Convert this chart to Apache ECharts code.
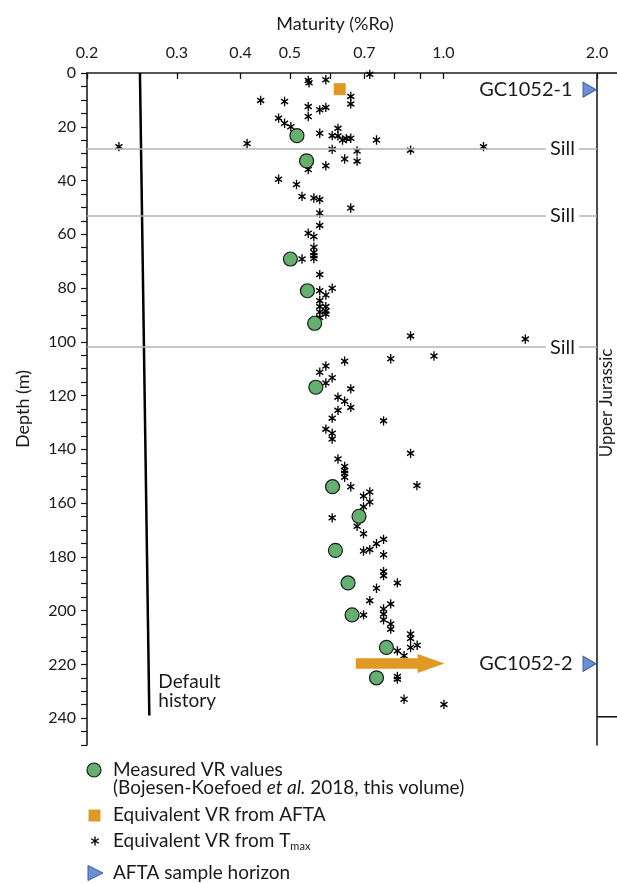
<!DOCTYPE html>
<html><head><meta charset="utf-8">
<script src="https://cdn.jsdelivr.net/npm/echarts@6/dist/echarts.min.js"></script>
<style>html,body{margin:0;padding:0;background:#fff}#c{width:617px;height:883px}</style>
</head><body><div id="c"></div>
<script>
// ---------- data ----------
const xTickValues = [0.2, 0.3, 0.4, 0.5, 0.6, 0.7, 0.8, 0.9, 1.0, 2.0];
const xLabelValues = [0.2, 0.3, 0.4, 0.5, 0.7, 1.0, 2.0];
const yLabelStep = 20;

// Equivalent VR from Tmax: [Ro %, depth m]
const tmaxVR = [
  [0.543, 2.8], [0.545, 3.6], [0.588, 2.5], [0.717, 0.5],
  [0.438, 10.2], [0.488, 10.6], [0.658, 8.7], [0.658, 11.5],
  [0.543, 12.5], [0.572, 13.7], [0.588, 12.8], [0.543, 16.2],
  [0.475, 16.8], [0.488, 18.7], [0.502, 20.0],
  [0.572, 22.4], [0.605, 23.3], [0.621, 20.6], [0.621, 23.4],
  [0.634, 24.9], [0.645, 24.4], [0.658, 24.3], [0.739, 24.9],
  [0.412, 26.2], [0.231, 27.4], [1.198, 27.4], [0.862, 28.7],
  [0.605, 28.4], [0.677, 29.0], [0.677, 32.8], [0.640, 32.0],
  [0.543, 35.9], [0.588, 34.5], [0.475, 39.5], [0.515, 41.5],
  [0.528, 45.9], [0.557, 46.5], [0.572, 47.1], [0.658, 50.2],
  [0.572, 52.1], [0.572, 56.7], [0.543, 59.6], [0.557, 60.8],
  [0.557, 64.8], [0.557, 66.8], [0.557, 68.0], [0.557, 69.0], [0.528, 69.2],
  [0.572, 75.0], [0.572, 81.0], [0.588, 82.6], [0.605, 80.1],
  [0.572, 84.7], [0.572, 86.9], [0.588, 86.9], [0.588, 88.5], [0.588, 89.7], [0.572, 88.9], [0.572, 91.0],
  [0.862, 97.8], [1.447, 99.0], [0.958, 105.3], [0.788, 106.3], [0.640, 107.2],
  [0.588, 109.0], [0.572, 111.3], [0.605, 113.4], [0.588, 115.3], [0.658, 117.5],
  [0.621, 120.6], [0.640, 122.1], [0.658, 124.4], [0.621, 125.5],
  [0.605, 128.4], [0.763, 129.4], [0.588, 132.5], [0.605, 134.0], [0.605, 136.2],
  [0.862, 141.5], [0.621, 143.6], [0.640, 146.4], [0.640, 147.9], [0.640, 148.9], [0.640, 150.4],
  [0.658, 153.9], [0.887, 153.5], [0.697, 157.4], [0.717, 155.9], [0.717, 159.6], [0.697, 161.4],
  [0.605, 165.5], [0.677, 168.6], [0.697, 171.4], [0.763, 173.5], [0.739, 175.1], [0.717, 177.3], [0.697, 177.8], [0.763, 179.2],
  [0.763, 185.5], [0.763, 187.0],
  [0.812, 189.7], [0.739, 191.7], [0.717, 196.3], [0.788, 197.5], [0.763, 199.4], [0.763, 201.3], [0.763, 203.4], [0.697, 201.6],
  [0.788, 205.0], [0.788, 206.9], [0.862, 208.7], [0.862, 210.4], [0.862, 213.7], [0.888, 212.9], [0.812, 215.0], [0.837, 216.8],
  [0.812, 224.5], [0.812, 225.5], [0.837, 233.0], [1.002, 234.9]
];

// Measured VR values: [Ro %, depth m]
const measuredVR = [
  [0.516, 23.3], [0.539, 32.7], [0.501, 69.2], [0.541, 81.0], [0.559, 93.1],
  [0.562, 116.9], [0.606, 153.9], [0.683, 164.9], [0.614, 177.6], [0.650, 189.7],
  [0.662, 201.6], [0.773, 213.7], [0.739, 225.0]
];

// Equivalent VR from AFTA
const aftaVR = [[0.626, 6.0]];
// AFTA-derived maturity arrow: [start Ro, depth, end Ro]
const aftaArrow = [[0.673, 219.7, 1.005]];

// Default history
const defaultHistory = [[0.254, 0], [0.265, 239]];
const defaultHistoryLabel = ['Default', 'history'];

// Sills
const sillDepths = [28, 53, 102];

// AFTA sample horizons
const aftaSamples = ['GC1052-1', 'GC1052-2'];
const aftaSampleDepths = [6.2, 219.8];
const aftaSampleRo = 2.0;

const jurassicBase = 239.5;

// ---------- chart ----------
const FONT = 'Lato';
const TXT = '#1a1a1a';
const ORANGE = '#e09a24';
const GREEN = '#63b06f';
const BLUE = '#6b8fd4';
const STAR = 'path://M5,0L5,10M0.67,2.5L9.33,7.5M0.67,7.5L9.33,2.5';
const TRI = 'path://M0,0L12,7L0,14Z';

const chart = echarts.init(document.getElementById('c'), null, {renderer: 'canvas'});

const option = {
  animation: false,
  backgroundColor: '#fff',
  textStyle: {fontFamily: FONT, color: TXT},
  grid: {left: 87, right: 20, top: 73, bottom: 138, containLabel: false},
  xAxis: [{
    type: 'log', logBase: 10, min: 0.2, max: 2.0, position: 'top',
    name: 'Maturity (%Ro)', nameLocation: 'middle', nameGap: 40,
    nameTextStyle: {fontSize: 18, color: TXT, fontFamily: FONT, padding: [0, 14, 0, 0]},
    axisLine: {show: true, lineStyle: {color: '#111', width: 1.5}},
    axisTick: {show: true, inside: true, length: 6, customValues: xTickValues, lineStyle: {color: '#111', width: 1.3}},
    axisLabel: {show: true, customValues: xLabelValues, margin: 12, fontSize: 16, color: TXT, fontFamily: FONT,
      formatter: v => Number(v).toFixed(1)},
    splitLine: {show: false}, minorTick: {show: false}
  }, {
    type: 'log', logBase: 10, min: 0.2, max: 2.0, position: 'bottom',
    axisLine: {show: true, lineStyle: {color: '#555', width: 2}},
    axisTick: {show: false}, axisLabel: {show: false}, splitLine: {show: false}
  }],
  yAxis: [{
    type: 'value', inverse: true, min: 0, max: 250, interval: 5,
    name: 'Depth (m)', nameLocation: 'middle', nameGap: 55, nameRotate: 90,
    nameTextStyle: {fontSize: 18, color: TXT, fontFamily: FONT},
    axisLine: {show: true, lineStyle: {color: '#111', width: 1.5}},
    axisTick: {show: true, inside: false, length: 6, lineStyle: {color: '#111', width: 1.2}},
    axisLabel: {show: true, margin: 11, fontSize: 16, color: TXT, fontFamily: FONT,
      formatter: v => (v % yLabelStep === 0 ? String(v) : '')},
    splitLine: {show: false}
  }, {
    type: 'value', inverse: true, min: 0, max: 250, position: 'right',
    axisLine: {show: true, lineStyle: {color: '#111', width: 1.5}},
    axisTick: {show: false}, axisLabel: {show: false}, splitLine: {show: false}
  }],
  series: [
    {
      name: 'Default history', type: 'line', xAxisIndex: 0, yAxisIndex: 0,
      data: defaultHistory, showSymbol: false, symbol: 'none',
      lineStyle: {color: '#000', width: 2.5}, z: 2, silent: true,
      markLine: {
        silent: true, symbol: ['none', 'none'], animation: false,
        lineStyle: {color: '#b4b4b4', width: 1.5, type: 'solid'},
        label: {show: true, position: 'insideEnd', distance: [18, 0], formatter: 'Sill',
          fontSize: 20, color: TXT, fontFamily: FONT, backgroundColor: '#fff', padding: [1, 4]},
        emphasis: {disabled: true},
        data: sillDepths.map(d => ({yAxis: d}))
      }
    },
    {
      name: 'Equivalent VR from Tmax', type: 'scatter', data: tmaxVR,
      symbol: STAR, symbolSize: [8.2, 9.4], symbolKeepAspect: true,
      itemStyle: {color: 'rgba(0,0,0,0)', borderColor: '#000', borderWidth: 1.4, opacity: 1},
      emphasis: {disabled: true}, z: 3, silent: true
    },
    {
      name: 'Measured VR values', type: 'scatter', data: measuredVR,
      symbol: 'circle', symbolSize: 14,
      itemStyle: {color: GREEN, borderColor: '#1a1a1a', borderWidth: 1.2, opacity: 1},
      emphasis: {disabled: true}, z: 4, silent: true
    },
    {
      name: 'Equivalent VR from AFTA', type: 'scatter', data: aftaVR,
      symbol: 'rect', symbolSize: 12,
      itemStyle: {color: ORANGE, opacity: 1}, emphasis: {disabled: true}, z: 4, silent: true
    },
    {
      name: 'AFTA arrow', type: 'custom', data: aftaArrow, z: 5, silent: true,
      encode: {x: [0, 2], y: 1},
      renderItem: (params, api) => {
        const s = api.coord([api.value(0), api.value(1)]);
        const e = api.coord([api.value(2), api.value(1)]);
        const hl = 27, hh = 9.5, sh = 5.2;
        const bx = e[0] - hl, y = s[1];
        return {
          type: 'polygon',
          shape: {points: [[s[0], y - sh], [bx, y - sh], [bx, y - hh], [e[0], y], [bx, y + hh], [bx, y + sh], [s[0], y + sh]]},
          style: {fill: ORANGE, opacity: 1}
        };
      }
    },
    {
      name: 'AFTA sample horizon', type: 'scatter',
      data: aftaSamples.map((n, i) => ({name: n, value: [aftaSampleRo, aftaSampleDepths[i]]})),
      symbol: TRI, symbolSize: [13, 15], symbolOffset: [-7.5, 0],
      itemStyle: {color: BLUE, borderColor: '#3b5ba5', borderWidth: 1, opacity: 1},
      label: {show: true, position: 'left', distance: 10, formatter: p => p.name,
        fontSize: 20, color: TXT, fontFamily: FONT, opacity: 1},
      emphasis: {disabled: true}, z: 6, silent: true
    }
  ]
};
chart.setOption(option);

// ---------- annotations and legend ----------
const pTop = chart.convertToPixel({gridIndex: 0}, [2.0, 0]);
const pBase = chart.convertToPixel({gridIndex: 0}, [2.0, jurassicBase]);
const pBottom = chart.convertToPixel({gridIndex: 0}, [2.0, 250]);
const pHist = chart.convertToPixel({gridIndex: 0}, defaultHistory[defaultHistory.length - 1]);
const W = 617;
const starLines = (cx, cy, h) => {
  const r = h / 2, dx = r * 0.866, dy = r * 0.5;
  return [
    [cx, cy - r, cx, cy + r], [cx - dx, cy - dy, cx + dx, cy + dy], [cx - dx, cy + dy, cx + dx, cy - dy]
  ].map(l => ({type: 'line', shape: {x1: l[0], y1: l[1], x2: l[2], y2: l[3]}, style: {stroke: '#000', lineWidth: 1.4}}));
};
const legendText = (x, y, text, rich) => ({
  type: 'text', x: x, y: y,
  style: {text: text, fontSize: 19, fontFamily: FONT, fill: TXT, verticalAlign: 'middle', rich: rich || {}}
});

chart.setOption({
  graphic: [
    {type: 'line', shape: {x1: pTop[0], y1: pTop[1], x2: W, y2: pTop[1]}, style: {stroke: '#111', lineWidth: 1.5}},
    {type: 'line', shape: {x1: pBase[0], y1: pBase[1], x2: W, y2: pBase[1]}, style: {stroke: '#111', lineWidth: 1.5}},
    {type: 'text', x: pTop[0] + 10, y: (pTop[1] + pBottom[1]) / 2 - 6, rotation: Math.PI / 2,
      style: {text: 'Upper Jurassic', fontSize: 17, fontFamily: FONT, fill: TXT, align: 'center', verticalAlign: 'middle'}},
    {type: 'text', x: pHist[0] + 9, y: pHist[1] - 24,
      style: {text: defaultHistoryLabel.join('\n'), fontSize: 19, lineHeight: 19, fontFamily: FONT, fill: TXT, align: 'left', verticalAlign: 'middle'}},
    // legend
    {type: 'circle', shape: {cx: 94, cy: 770, r: 7}, style: {fill: GREEN, stroke: '#1a1a1a', lineWidth: 1.2}},
    legendText(113, 770, 'Measured VR values'),
    legendText(113, 788, '(Bojesen-Koefoed {i|et al.} 2018, this volume)', {i: {fontStyle: 'italic', fontSize: 19, fontFamily: FONT}}),
    {type: 'rect', shape: {x: 88.5, y: 809.5, width: 12, height: 12}, style: {fill: ORANGE}},
    legendText(113, 815, 'Equivalent VR from AFTA'),
    {type: 'group', children: starLines(95, 841, 9)},
    legendText(113, 841, 'Equivalent VR from T{sub|max}', {sub: {fontSize: 11, fontFamily: FONT, padding: [10, 0, 0, 0]}}),
    {type: 'polygon', shape: {points: [[88, 865.5], [103, 873], [88, 880.5]]}, style: {fill: BLUE, stroke: '#3b5ba5', lineWidth: 1}},
    legendText(113, 873, 'AFTA sample horizon')
  ]
});
</script>
</body></html>
